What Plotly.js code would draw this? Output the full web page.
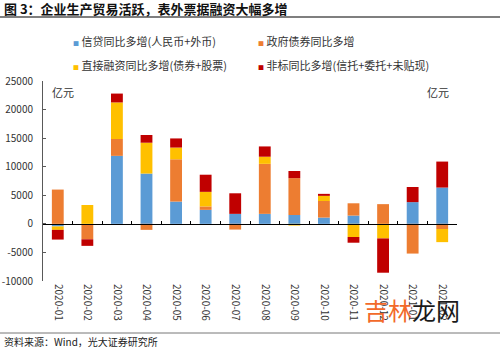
<!DOCTYPE html>
<html>
<head>
<meta charset="utf-8">
<script src="https://cdn.plot.ly/plotly-3.0.1.min.js"></script>
<style>html,body{margin:0;padding:0;background:#fff;}#chart{width:500px;height:349px;}</style>
</head>
<body>
<div id="chart"></div>
<script>
const categories = ["2020-01","2020-02","2020-03","2020-04","2020-05","2020-06","2020-07","2020-08","2020-09","2020-10","2020-11","2020-12","2021-01","2021-02"];
const seriesNames = ["信贷同比多增(人民币+外币)","政府债券同比多增","直接融资同比多增(债券+股票)","非标同比多增(信托+委托+未贴现)"];
const creditYoY   = [-450, 0, 11900, 8800, 3900, 2450, 1750, 1750, 1550, 1100, 1450, 0, 3800, 6350];
const govBondYoY  = [6000, -2700, 2950, -1050, 7400, 600, -1000, 8750, 6450, 2900, 2150, 3450, -5200, -900];
const directYoY   = [-600, 3300, 6400, 5400, 2050, 2550, 0, 1250, -300, 900, -2300, -2550, 0, -2300];
const nonStdYoY   = [-1700, -1150, 1550, 1350, 1600, 3000, 3600, 1800, 1250, 350, -1000, -6000, 2650, 4550];
const yTicks = [-10000, -5000, 0, 5000, 10000, 15000, 20000, 25000];
const yTickLabels = ["-10000", "-5000", "0", "5000", "10000", "15000", "20000", "25000"];
const colors = ["#5B9BD5","#ED7D31","#FFC000","#C00000"];

const FONT = "Noto Sans CJK SC, sans-serif";
const values = [creditYoY, govBondYoY, directYoY, nonStdYoY];

const traces = values.map((v, i) => ({
  type: "bar", x: categories, y: v, name: seriesNames[i],
  marker: {color: colors[i], line: {width: 0}},
  showlegend: false, hoverinfo: "x+y+name"
}));
// helper trace to carry the zero-line axis ticks
traces.push({type: "scatter", mode: "markers", x: categories, y: categories.map(() => null),
  xaxis: "x2", yaxis: "y", showlegend: false, hoverinfo: "skip", marker: {opacity: 0}});

const L = 43, R = 457, T = 81, B = 281;
const px = (x) => (x - L) / (R - L);
const py = (y) => (B - y) / (B - T);

const legendPos = [[71, 41], [256, 41], [71, 65], [256, 65]];
const annotations = seriesNames.map((n, i) => ({
  xref: "paper", yref: "paper", x: px(legendPos[i][0]), y: py(legendPos[i][1]),
  xanchor: "left", yanchor: "middle", showarrow: false,
  text: '<span style="color:' + colors[i] + ';font-size:6px">■</span> ' + n,
  font: {family: FONT, size: 11, color: "#333"}
}));
annotations.push(
  {xref: "paper", yref: "paper", x: px(63), y: py(92), xanchor: "center", yanchor: "middle", showarrow: false,
   text: "亿元", font: {family: FONT, size: 11, color: "#333"}},
  {xref: "paper", yref: "paper", x: px(438), y: py(92), xanchor: "center", yanchor: "middle", showarrow: false,
   text: "亿元", font: {family: FONT, size: 11, color: "#333"}},
  {xref: "paper", yref: "paper", x: px(2), y: py(341), xanchor: "left", yanchor: "middle", showarrow: false,
   text: "资料来源：Wind，光大证券研究所", font: {family: FONT, size: 10, color: "#222"}},
  {xref: "paper", yref: "paper", x: px(412), y: py(309), xanchor: "center", yanchor: "middle", showarrow: false,
   text: '<span style="color:#F26A2A">吉林</span><span style="color:#1a1a1a">龙网</span>', font: {family: FONT, size: 24, color: "#1a1a1a"}}
);

const layout = {
  width: 500, height: 349,
  margin: {l: L, r: 500 - R, t: T, b: 349 - B, pad: 0},
  paper_bgcolor: "#fff", plot_bgcolor: "#fff",
  font: {family: FONT, size: 10, color: "#333"},
  title: {text: "<b>图 3：企业生产贸易活跃，表外票据融资大幅多增</b>", xref: "container", yref: "container",
    x: 0.008, xanchor: "left", y: 1 - 9 / 349, yanchor: "middle", font: {family: FONT, size: 13, color: "#111"}},
  barmode: "relative", bargap: 0.6,
  xaxis: {type: "category", categoryorder: "array", categoryarray: categories, range: [-0.5, categories.length - 0.5],
    showline: false, ticks: "", tickangle: 90, showgrid: false, zeroline: false,
    tickfont: {family: FONT, size: 10, color: "#333"}, ticklabelstandoff: 2},
  xaxis2: {type: "category", categoryorder: "array", categoryarray: categories, range: [-0.5, categories.length - 0.5],
    overlaying: "x", anchor: "free", position: 10 / 35, showline: true, linecolor: "#000", linewidth: 1,
    ticks: "inside", ticklen: 3, tickcolor: "#000", tickson: "boundaries", showticklabels: false, showgrid: false, zeroline: false},
  yaxis: {range: [-10000, 25000], tickvals: yTicks, ticktext: yTickLabels, showline: true, linecolor: "#595959", linewidth: 1,
    ticks: "inside", ticklen: 3, tickcolor: "#595959", showgrid: false, zeroline: false,
    tickfont: {family: FONT, size: 10, color: "#333"}, ticklabelstandoff: 7},
  yaxis2: {range: [-10000, 25000], tickvals: yTicks, ticktext: yTickLabels, overlaying: "y", side: "right", anchor: "x",
    showline: true, linecolor: "#595959", linewidth: 1, ticks: "inside", ticklen: 3, tickcolor: "#595959",
    showgrid: false, zeroline: false, tickfont: {family: FONT, size: 10, color: "#333"}, ticklabelstandoff: 7},
  annotations: annotations,
  shapes: [
    {type: "line", xref: "paper", yref: "paper", x0: px(0), x1: px(500), y0: py(17), y1: py(17), line: {color: "#555", width: 1.5}},
    {type: "line", xref: "paper", yref: "paper", x0: px(0), x1: px(500), y0: py(333), y1: py(333), line: {color: "#777", width: 1}}
  ]
};
Plotly.newPlot("chart", traces, layout, {displayModeBar: false, staticPlot: true});
</script>
</body>
</html>
